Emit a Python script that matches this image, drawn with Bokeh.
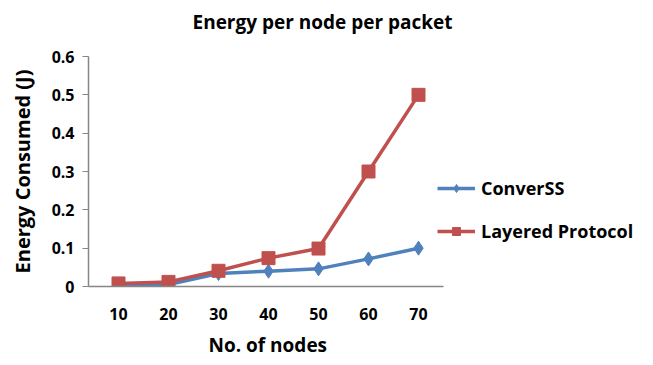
from bokeh.plotting import figure
from bokeh.models import Legend, LegendItem, FixedTicker, Range1d, Title
from bokeh.embed import file_html
from bokeh.resources import INLINE

nodes = [10, 20, 30, 40, 50, 60, 70]
converss = [0.003, 0.005, 0.034, 0.040, 0.046, 0.072, 0.100]
layered = [0.008, 0.012, 0.041, 0.074, 0.099, 0.300, 0.500]
y_ticks = [0, 0.1, 0.2, 0.3, 0.4, 0.5, 0.6]

FONT = "Open Sans"
BLUE = "#4F81BD"
RED = "#C0504D"
AXIS = "#868686"

p = figure(width=653, height=365, output_backend="svg", toolbar_location=None,
           x_range=Range1d(4, 116), y_range=Range1d(0, 0.6),
           min_border_left=88, min_border_right=5, min_border_top=56,
           min_border_bottom=78, title=None)
p.outline_line_color = None
p.xgrid.visible = False
p.ygrid.visible = False
p.background_fill_color = "white"
p.border_fill_color = "white"

spacer = Title(text=" ", text_font=FONT, text_font_size="14px",
               text_color="white", standoff=0)
p.add_layout(spacer, "above")
main_title = Title(text="Energy per node per packet", text_font=FONT,
                   text_font_style="bold", text_font_size="19px",
                   text_color="#000000", align="left", offset=104, standoff=2)
p.add_layout(main_title, "above")

p.xaxis.ticker = FixedTicker(ticks=nodes)
p.xaxis.bounds = (4, 75)
p.yaxis.ticker = FixedTicker(ticks=y_ticks)
p.yaxis.major_label_overrides = {0: "0"}
for ax in (p.xaxis, p.yaxis):
    ax.axis_line_color = AXIS
    ax.axis_line_width = 1.5
    ax.minor_tick_line_color = None
    ax.major_label_text_font = FONT
    ax.major_label_text_font_style = "bold"
    ax.major_label_text_font_size = "16px"
    ax.major_label_text_color = "#000000"
    ax.axis_label_text_font = FONT
    ax.axis_label_text_font_style = "bold"
    ax.axis_label_text_font_size = "20px"
    ax.axis_label_text_color = "#000000"
p.xaxis.major_tick_line_color = None
p.xaxis.major_label_standoff = 15
p.yaxis.major_tick_line_color = AXIS
p.yaxis.major_tick_out = 6
p.yaxis.major_tick_in = 0
p.yaxis.major_label_standoff = 8
p.yaxis.axis_label = "Energy Consumed (J)"
p.yaxis.axis_label_standoff = 13

xlabel = Title(text="No. of nodes", text_font=FONT, text_font_style="bold",
               text_font_size="19px", text_color="#000000", align="left",
               offset=120, standoff=15)
p.add_layout(xlabel, "below")

l1 = p.line(nodes, converss, line_color=BLUE, line_width=3.5)
m1 = p.scatter(nodes, converss, marker="diamond", size=14, fill_color=BLUE, line_color=BLUE)
l2 = p.line(nodes, layered, line_color=RED, line_width=3.5)
m2 = p.scatter(nodes, layered, marker="square", size=13, fill_color=RED, line_color=RED)

legend = Legend(items=[LegendItem(label="ConverSS", renderers=[l1, m1]),
                       LegendItem(label="Layered Protocol", renderers=[l2, m2])],
                location=(349, 43), orientation="vertical",
                glyph_width=38, glyph_height=20, label_height=20,
                label_standoff=6, spacing=19,
                padding=0, margin=0, border_line_color=None,
                background_fill_alpha=0,
                label_text_font=FONT, label_text_font_style="bold",
                label_text_font_size="18px", label_text_color="#000000")
p.add_layout(legend, "center")

open("out.html", "w").write(file_html(p, INLINE))
